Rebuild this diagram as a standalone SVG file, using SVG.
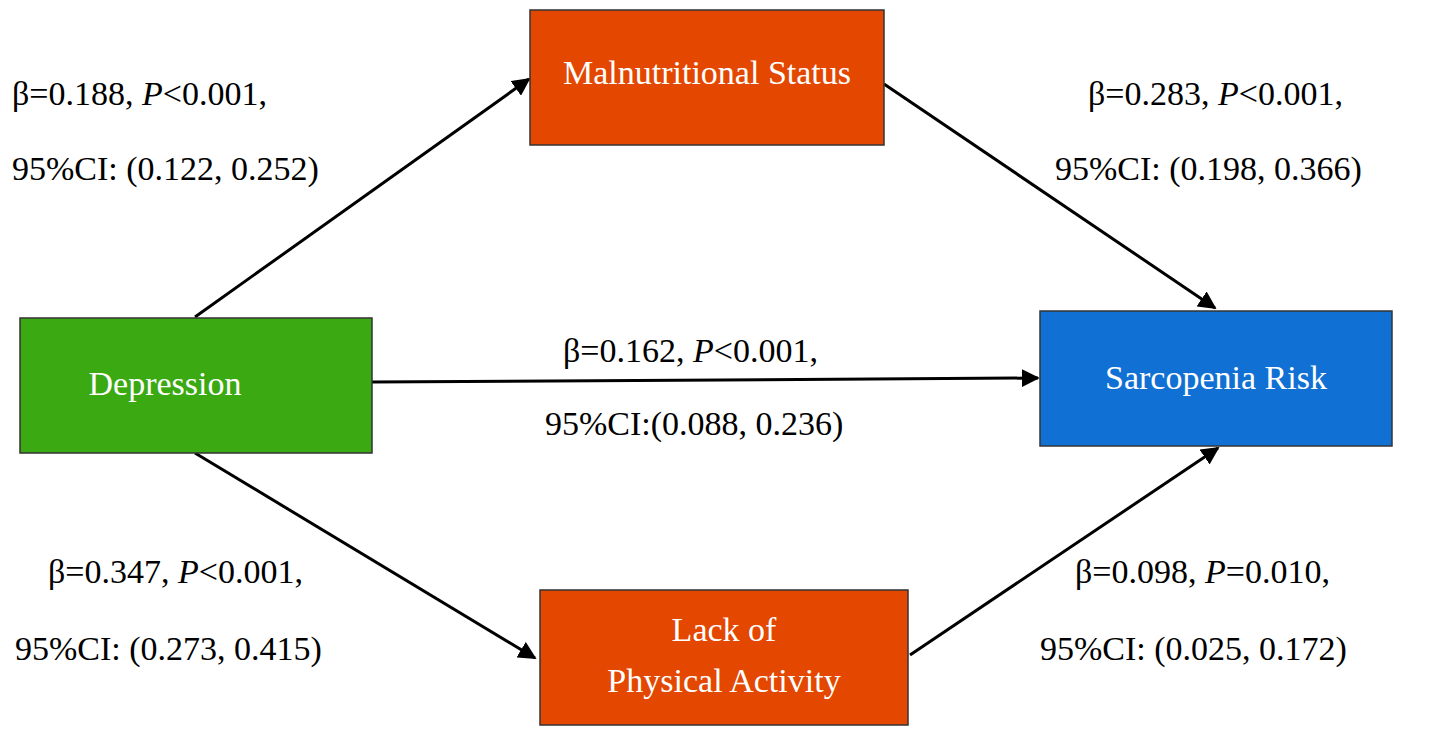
<svg xmlns="http://www.w3.org/2000/svg" width="1430" height="739" viewBox="0 0 1430 739">
<defs>
<style>
.t{font-family:"Liberation Serif",serif;font-size:34px;fill:#000}
.w{font-family:"Liberation Serif",serif;font-size:34px;fill:#fff;text-anchor:middle}
.b{stroke:#333;stroke-width:1.5}
.c{stroke:#000;stroke-width:3;fill:none;marker-end:url(#ah)}
</style>
<marker id="ah" viewBox="0 0 10 10" refX="9" refY="5" markerWidth="6" markerHeight="6" orient="auto" markerUnits="strokeWidth"><path d="M0,0 L10,5 L0,10 z" fill="#000"/></marker>
</defs>
<rect width="1430" height="739" fill="#fff"/>
<g id="connectors">
<line class="c" x1="195" y1="317" x2="529" y2="79"/>
<line class="c" x1="884" y1="84" x2="1215" y2="308"/>
<line class="c" x1="372" y1="382" x2="1038" y2="378"/>
<line class="c" x1="195" y1="453" x2="535" y2="658"/>
<line class="c" x1="910" y1="655" x2="1218" y2="448"/>
</g>
<g id="malnutrition"><rect class="b" x="530" y="10" width="354" height="135" fill="#E34700"/><text class="w" x="707" y="84">Malnutritional Status</text></g>
<g id="depression"><rect class="b" x="20" y="318" width="352" height="135" fill="#3AA912"/><text class="w" x="165" y="395">Depression</text></g>
<g id="sarcopenia"><rect class="b" x="1040" y="311" width="352" height="135" fill="#1170D4"/><text class="w" x="1216" y="389">Sarcopenia Risk</text></g>
<g id="activity"><rect class="b" x="540" y="590" width="368" height="135" fill="#E34700"/><text class="w" x="724" y="641">Lack of</text><text class="w" x="724" y="692">Physical Activity</text></g>
<g id="labels">
<text class="t" x="12" y="105">β=0.188,   <tspan font-style="italic">P</tspan>&lt;0.001,</text>
<text class="t" x="12" y="180">95%CI: (0.122, 0.252)</text>
<text class="t" x="1088" y="105">β=0.283, <tspan font-style="italic">P</tspan>&lt;0.001,</text>
<text class="t" x="1055" y="180">95%CI: (0.198, 0.366)</text>
<text class="t" x="563" y="362">β=0.162, <tspan font-style="italic">P</tspan>&lt;0.001,</text>
<text class="t" x="545" y="435">95%CI:(0.088, 0.236)</text>
<text class="t" x="48" y="583">β=0.347, <tspan font-style="italic">P</tspan>&lt;0.001,</text>
<text class="t" x="15" y="660">95%CI: (0.273, 0.415)</text>
<text class="t" x="1075" y="583">β=0.098, <tspan font-style="italic">P</tspan>=0.010,</text>
<text class="t" x="1040" y="660">95%CI: (0.025, 0.172)</text>
</g>
</svg>
